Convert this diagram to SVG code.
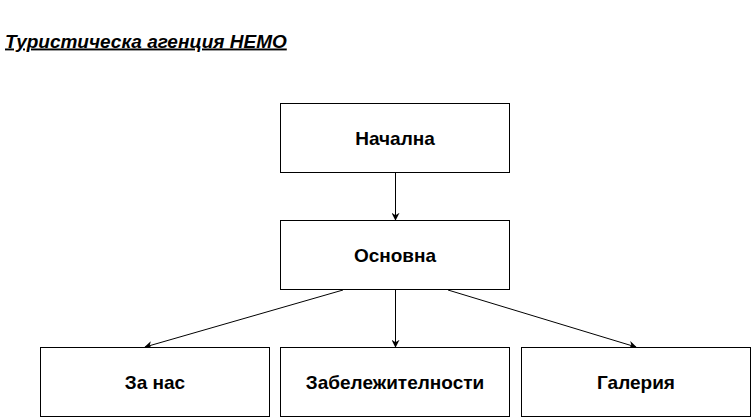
<svg xmlns="http://www.w3.org/2000/svg" width="751" height="418" viewBox="0 0 751 418">
<style>
.box{fill:#fff;stroke:#000;stroke-width:1}
.lbl{font-family:"Liberation Sans",Arial,sans-serif;font-weight:bold;font-size:19px;fill:#000;text-anchor:middle;dominant-baseline:central}
.edge{stroke:#000;stroke-width:1;fill:none;marker-end:url(#arr)}
</style>
<defs>
<marker id="arr" viewBox="0 0 10 10" refX="9" refY="5" markerWidth="8" markerHeight="8" markerUnits="userSpaceOnUse" orient="auto">
<path d="M0,0 L10,5 L0,10 L3,5 Z" fill="#000"/>
</marker>
</defs>
<rect width="751" height="418" fill="#fff"/>
<text x="5" y="47.5" font-family="Liberation Sans,Arial,sans-serif" font-weight="bold" font-style="italic" font-size="19" text-decoration="underline" fill="#000">Туристическа агенция НЕМО</text>
<g id="connectors">
<line class="edge" x1="395.5" y1="173" x2="395.5" y2="220"/>
<line class="edge" x1="343" y1="290" x2="145" y2="347"/>
<line class="edge" x1="395.5" y1="290" x2="395.5" y2="347"/>
<line class="edge" x1="448" y1="290" x2="636" y2="347"/>
</g>
<g id="nachalna"><rect class="box" x="280.5" y="103.5" width="229" height="69"/><text class="lbl" x="395" y="138">Начална</text></g>
<g id="osnovna"><rect class="box" x="280.5" y="220.5" width="229" height="69"/><text class="lbl" x="395" y="255">Основна</text></g>
<g id="zanas"><rect class="box" x="40.5" y="347.5" width="229" height="69"/><text class="lbl" x="155" y="382">За нас</text></g>
<g id="zabelezhitelnosti"><rect class="box" x="280.5" y="347.5" width="229" height="69"/><text class="lbl" x="395" y="382">Забележителности</text></g>
<g id="galeriya"><rect class="box" x="521.5" y="347.5" width="229" height="69"/><text class="lbl" x="636" y="382">Галерия</text></g>
</svg>
